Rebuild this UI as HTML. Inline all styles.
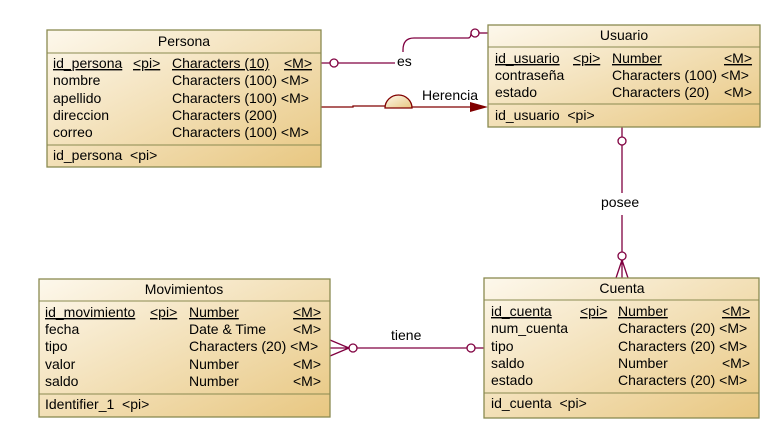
<!DOCTYPE html>
<html><head><meta charset="utf-8"><style>
body{margin:0;background:#fff;}
svg{display:block;font-family:"Liberation Sans",sans-serif;font-size:14px;}
</style></head><body>
<svg width="783" height="440" xmlns="http://www.w3.org/2000/svg">
<defs>
<linearGradient id="g" x1="0" y1="0" x2="1" y2="1">
<stop offset="0" stop-color="#fdf8ec"/><stop offset="1" stop-color="#e8c781"/>
</linearGradient>
</defs>
<g fill="none" stroke="#800040" stroke-width="1.3">
<path d="M321 63 H330 M338 63 H395"/>
<circle cx="334" cy="63" r="4" fill="#fff"/>
<path d="M403 52 V50 Q403 38 414 38"/>
<path d="M414 38 H468 Q471 38 471 33"/>
<path d="M479 33 H488"/>
<circle cx="475" cy="33" r="4" fill="#fff"/>
<path d="M622 127 V137 M622 145 V193 M622 215 V252"/>
<circle cx="622" cy="141" r="4" fill="#fff"/>
<circle cx="622" cy="256" r="4" fill="#fff"/>
<path d="M622 260 L616 278 M622 260 V278 M622 260 L628 278"/>
<path d="M357 348 H467 M330 340 L349 348 L330 356 M330 348 H349"/>
<circle cx="353" cy="348" r="4" fill="#fff"/>
<circle cx="471" cy="348" r="4" fill="#fff"/>
<path d="M475 348 H484"/>
</g>
<g stroke="#800000" stroke-width="1.3" fill="none">
<path d="M321 107 H353 V106 H385 M412 107 H472"/>
<path d="M385 108 A13.5 13 0 0 1 412 108 Z" fill="url(#g)"/>
</g>
<polygon points="470,102 488,107 470,112" fill="#800000"/>
<text x="422" y="100" fill="#000">Herencia</text>
<text x="397" y="66">es</text>
<text x="601" y="207">posee</text>
<text x="391" y="340">tiene</text>

<g stroke="#8a8a50" stroke-width="1.3" fill="url(#g)">
<rect x="47" y="30" width="274" height="137"/>
<rect x="488" y="25" width="272" height="102"/>
<rect x="484" y="278" width="275" height="140"/>
<rect x="39" y="279" width="291" height="138"/>
</g>
<g stroke="#8a8a50" stroke-width="1">
<path d="M47 53 H321 M47 145 H321 M488 47 H760 M488 104 H760 M484 300 H759 M484 393 H759 M39 301 H330 M39 394 H330"/>
</g>
<g fill="#000">
<text x="184" y="46" text-anchor="middle">Persona</text>
<text x="53" y="68" text-decoration="underline">id_persona</text><text x="133" y="68" text-decoration="underline">&lt;pi&gt;</text><text x="172" y="68" text-decoration="underline">Characters (10)</text><text x="284" y="68" text-decoration="underline">&lt;M&gt;</text>
<text x="53" y="85">nombre</text><text x="172" y="85">Characters (100) &lt;M&gt;</text>
<text x="53" y="103">apellido</text><text x="172" y="103">Characters (100) &lt;M&gt;</text>
<text x="53" y="120">direccion</text><text x="172" y="120">Characters (200)</text>
<text x="53" y="137">correo</text><text x="172" y="137">Characters (100) &lt;M&gt;</text>
<text x="53" y="160">id_persona&#160;&#160;&lt;pi&gt;</text>
<text x="624" y="40" text-anchor="middle">Usuario</text>
<text x="495" y="63" text-decoration="underline">id_usuario</text><text x="573" y="63" text-decoration="underline">&lt;pi&gt;</text><text x="612" y="63" text-decoration="underline">Number</text><text x="724" y="63" text-decoration="underline">&lt;M&gt;</text>
<text x="495" y="80">contraseña</text><text x="612" y="80">Characters (100) &lt;M&gt;</text>
<text x="495" y="97">estado</text><text x="612" y="97">Characters (20)</text><text x="724" y="97">&lt;M&gt;</text>
<text x="495" y="120">id_usuario&#160;&#160;&lt;pi&gt;</text>
<text x="622" y="293" text-anchor="middle">Cuenta</text>
<text x="491" y="316" text-decoration="underline">id_cuenta</text><text x="580" y="316" text-decoration="underline">&lt;pi&gt;</text><text x="618" y="316" text-decoration="underline">Number</text><text x="722" y="316" text-decoration="underline">&lt;M&gt;</text>
<text x="491" y="333">num_cuenta</text><text x="618" y="333">Characters (20) &lt;M&gt;</text>
<text x="491" y="351">tipo</text><text x="618" y="351">Characters (20) &lt;M&gt;</text>
<text x="491" y="368">saldo</text><text x="618" y="368">Number</text><text x="722" y="368">&lt;M&gt;</text>
<text x="491" y="385">estado</text><text x="618" y="385">Characters (20) &lt;M&gt;</text>
<text x="491" y="408">id_cuenta&#160;&#160;&lt;pi&gt;</text>
<text x="184" y="294" text-anchor="middle">Movimientos</text>
<text x="45" y="317" text-decoration="underline">id_movimiento</text><text x="150" y="317" text-decoration="underline">&lt;pi&gt;</text><text x="189" y="317" text-decoration="underline">Number</text><text x="293" y="317" text-decoration="underline">&lt;M&gt;</text>
<text x="45" y="334">fecha</text><text x="189" y="334">Date &amp; Time</text><text x="293" y="334">&lt;M&gt;</text>
<text x="45" y="351">tipo</text><text x="189" y="351">Characters (20) &lt;M&gt;</text>
<text x="45" y="369">valor</text><text x="189" y="369">Number</text><text x="293" y="369">&lt;M&gt;</text>
<text x="45" y="386">saldo</text><text x="189" y="386">Number</text><text x="293" y="386">&lt;M&gt;</text>
<text x="45" y="409">Identifier_1&#160;&#160;&lt;pi&gt;</text>
</g>
</svg>
</body></html>
